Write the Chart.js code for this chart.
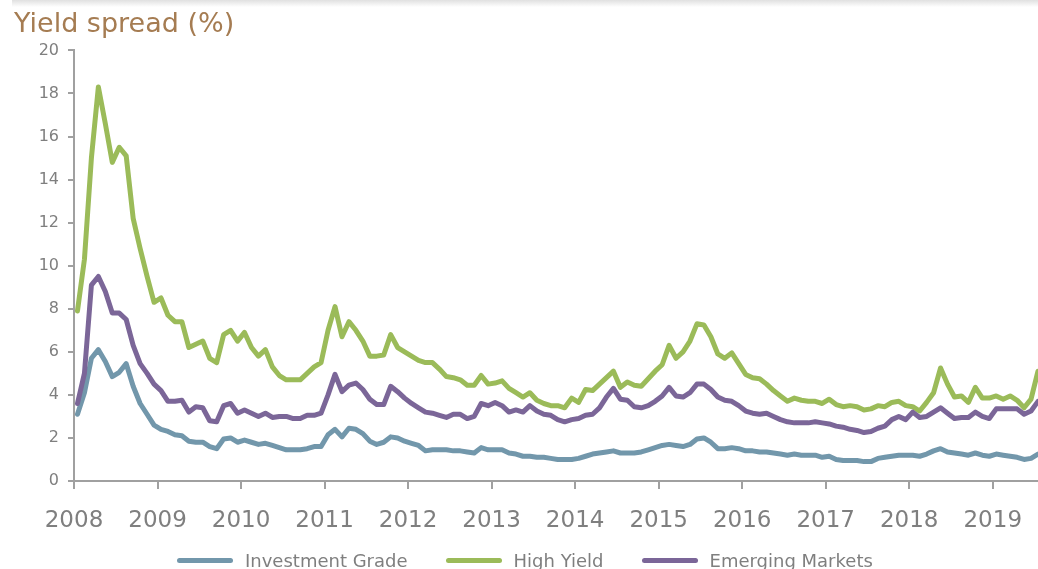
<!DOCTYPE html>
<html>
<head>
<meta charset="utf-8">
<title>Yield spread</title>
<script src="https://cdn.jsdelivr.net/npm/chart.js@4.4.1/dist/chart.umd.min.js"></script>
<style>
  html, body { margin: 0; padding: 0; background: #fff; overflow: hidden; }
  body { font-family: 'DejaVu Sans', Verdana, sans-serif; }
  #wrap { position: relative; width: 1038px; height: 569px; overflow: hidden; }
  #topShade { position: absolute; left: 12px; right: 0; top: 0; height: 7px; background: linear-gradient(#e0e0e0, #ffffff); }
  canvas { display: block; }
  #legend { position: absolute; left: 177px; top: 549px; height: 22px; display: flex; align-items: center; }
  .legend-item { display: flex; align-items: center; margin-right: 38px; }
  .legend-line { width: 56px; height: 5px; border-radius: 3px; margin-right: 12px; }
  .legend-text { font-size: 18px; color: #7f7f7f; white-space: nowrap; }
</style>
</head>
<body>
<div id="wrap">
  <div id="topShade"></div>
  <canvas id="spreadChart" width="1038" height="569"></canvas>
  <div id="legend"></div>
</div>
<script>
// Monthly yield spreads (%), first value is January 2008
const startYear = 2008;
const yearTicks = [2008, 2009, 2010, 2011, 2012, 2013, 2014, 2015, 2016, 2017, 2018, 2019];

const investmentGrade = [
  3.1, 4.1, 5.7, 6.1, 5.55, 4.85, 5.05, 5.45, 4.4, 3.6, 3.1, 2.6,
  2.4, 2.3, 2.15, 2.1, 1.85, 1.8, 1.8, 1.6, 1.5, 1.95, 2.0, 1.8,
  1.9, 1.8, 1.7, 1.75, 1.65, 1.55, 1.45, 1.45, 1.45, 1.5, 1.6, 1.6,
  2.15, 2.4, 2.05, 2.45, 2.4, 2.2, 1.85, 1.7, 1.8, 2.05, 2.0, 1.85,
  1.75, 1.65, 1.4, 1.45, 1.45, 1.45, 1.4, 1.4, 1.35, 1.3, 1.55, 1.45,
  1.45, 1.45, 1.3, 1.25, 1.15, 1.15, 1.1, 1.1, 1.05, 1.0, 1.0, 1.0,
  1.05, 1.15, 1.25, 1.3, 1.35, 1.4, 1.3, 1.3, 1.3, 1.35, 1.45, 1.55,
  1.65, 1.7, 1.65, 1.6, 1.7, 1.95, 2.0, 1.8, 1.5, 1.5, 1.55, 1.5,
  1.4, 1.4, 1.35, 1.35, 1.3, 1.25, 1.2, 1.25, 1.2, 1.2, 1.2, 1.1,
  1.15, 1.0, 0.95, 0.95, 0.95, 0.9, 0.9, 1.05, 1.1, 1.15, 1.2, 1.2,
  1.2, 1.15, 1.25, 1.4, 1.5, 1.35, 1.3, 1.25, 1.2, 1.3, 1.2, 1.15,
  1.25, 1.2, 1.15, 1.1, 1.0, 1.05, 1.25
];

const highYield = [
  7.9, 10.3, 15.0, 18.3, 16.6, 14.8, 15.5, 15.1, 12.2, 10.8, 9.5, 8.3,
  8.5, 7.7, 7.4, 7.4, 6.2, 6.35, 6.5, 5.7, 5.5, 6.8, 7.0, 6.5,
  6.9, 6.2, 5.8, 6.1, 5.3, 4.9, 4.7, 4.7, 4.7, 5.0, 5.3, 5.5,
  7.0, 8.1, 6.7, 7.4, 7.0, 6.5, 5.8, 5.8, 5.85, 6.8, 6.2, 6.0,
  5.8, 5.6, 5.5, 5.5, 5.2, 4.85, 4.8, 4.7, 4.45, 4.45, 4.9, 4.5,
  4.55, 4.65, 4.3, 4.1, 3.9, 4.1, 3.75, 3.6, 3.5, 3.5, 3.4, 3.85,
  3.65, 4.25, 4.2, 4.5, 4.8, 5.1, 4.35, 4.6, 4.45, 4.4, 4.75, 5.1,
  5.4, 6.3, 5.7, 6.0, 6.5, 7.3, 7.25, 6.7, 5.9, 5.7, 5.95, 5.45,
  4.95, 4.8, 4.75, 4.5, 4.2, 3.95, 3.7, 3.85, 3.75, 3.7, 3.7, 3.6,
  3.8, 3.55, 3.45, 3.5, 3.45, 3.3, 3.35, 3.5, 3.45, 3.65, 3.7, 3.5,
  3.45, 3.25, 3.65, 4.1, 5.25, 4.5, 3.9, 3.95, 3.65, 4.35, 3.85, 3.85,
  3.95, 3.8, 3.95, 3.75, 3.4, 3.8, 5.1
];

const emergingMarkets = [
  3.6, 5.0, 9.1, 9.5, 8.8, 7.8, 7.8, 7.5, 6.3, 5.45, 5.0, 4.5,
  4.2, 3.7, 3.7, 3.75, 3.2, 3.45, 3.4, 2.8, 2.75, 3.5, 3.6, 3.15,
  3.3, 3.15, 3.0, 3.15, 2.95, 3.0, 3.0, 2.9, 2.9, 3.05, 3.05, 3.15,
  4.0, 4.95, 4.15, 4.45, 4.55, 4.25, 3.8, 3.55, 3.55, 4.4, 4.15, 3.85,
  3.6, 3.4, 3.2, 3.15, 3.05, 2.95, 3.1, 3.1, 2.9, 3.0, 3.6, 3.5,
  3.65, 3.5, 3.2, 3.3, 3.2, 3.5, 3.25, 3.1, 3.05, 2.85, 2.75, 2.85,
  2.9, 3.05, 3.1, 3.4, 3.9, 4.3, 3.8, 3.75, 3.45, 3.4, 3.5, 3.7,
  3.95, 4.35, 3.95, 3.9, 4.1, 4.5, 4.5, 4.25, 3.9, 3.75, 3.7, 3.5,
  3.25, 3.15, 3.1, 3.15, 3.0, 2.85, 2.75, 2.7, 2.7, 2.7, 2.75, 2.7,
  2.65, 2.55, 2.5, 2.4, 2.35, 2.25, 2.3, 2.45, 2.55, 2.85, 3.0, 2.85,
  3.2, 2.95, 3.0, 3.2, 3.4, 3.15, 2.9, 2.95, 2.95, 3.2, 3.0, 2.9,
  3.35, 3.35, 3.35, 3.35, 3.1, 3.25, 3.7
];

const AXIS_GREY = '#a0a0a0';
const LABEL_GREY = '#7f7f7f';

Chart.defaults.font.family = "'DejaVu Sans', Verdana, sans-serif";

// each monthly value sits in the middle of its month
const toPoints = values => values.map((v, i) => ({ x: startYear + (i + 0.5) / 12, y: v }));

const makeSeries = (label, values, colour, order) => ({
  label,
  data: toPoints(values),
  borderColor: colour,
  backgroundColor: colour,
  borderWidth: 5,
  borderCapStyle: 'round',
  borderJoinStyle: 'round',
  pointRadius: 0,
  tension: 0,
  order
});

const ctx = document.getElementById('spreadChart');
const chart = new Chart(ctx, {
  type: 'line',
  data: {
    datasets: [
      makeSeries('Investment Grade', investmentGrade, '#7297ab', 3),
      makeSeries('High Yield', highYield, '#9bbb59', 2),
      makeSeries('Emerging Markets', emergingMarkets, '#7b6698', 1)
    ]
  },
  options: {
    responsive: false,
    animation: false,
    events: [],
    layout: { padding: { left: 14, right: 0, top: 0, bottom: 0 } },
    plugins: {
      title: {
        display: true,
        text: 'Yield spread (%)',
        align: 'start',
        color: '#a57c52',
        font: { size: 27, weight: 'normal' },
        padding: { top: 9, bottom: 9 }
      },
      legend: { display: false },
      tooltip: { enabled: false }
    },
    scales: {
      x: {
        type: 'linear',
        min: startYear,
        max: startYear + (highYield.length - 0.5) / 12,
        afterBuildTicks: scale => { scale.ticks = yearTicks.map(v => ({ value: v })); },
        afterFit: scale => {
          scale.height = 88;
          // the plot runs right to the edge of the canvas
          scale.paddingLeft = 0;
          scale.paddingRight = 0;
        },
        ticks: {
          color: LABEL_GREY,
          font: { size: 23 },
          padding: 18,
          maxRotation: 0,
          autoSkip: false,
          callback: v => String(v)
        },
        grid: { drawOnChartArea: false, tickLength: 8, color: AXIS_GREY, lineWidth: 2 },
        border: { color: AXIS_GREY, width: 2 }
      },
      y: {
        min: 0,
        max: 20,
        afterFit: scale => { scale.width = 60; },
        ticks: { stepSize: 2, color: LABEL_GREY, font: { size: 16 }, padding: 9 },
        grid: { drawOnChartArea: false, tickLength: 6, color: AXIS_GREY, lineWidth: 2 },
        border: { color: AXIS_GREY, width: 2 }
      }
    }
  }
});

// legend row under the axis, built from the datasets
const legendEl = document.getElementById('legend');
chart.data.datasets.forEach(ds => {
  const item = document.createElement('div');
  item.className = 'legend-item';
  item.innerHTML = `<span class="legend-line" style="background:${ds.borderColor}"></span><span class="legend-text">${ds.label}</span>`;
  legendEl.appendChild(item);
});
</script>
</body>
</html>
